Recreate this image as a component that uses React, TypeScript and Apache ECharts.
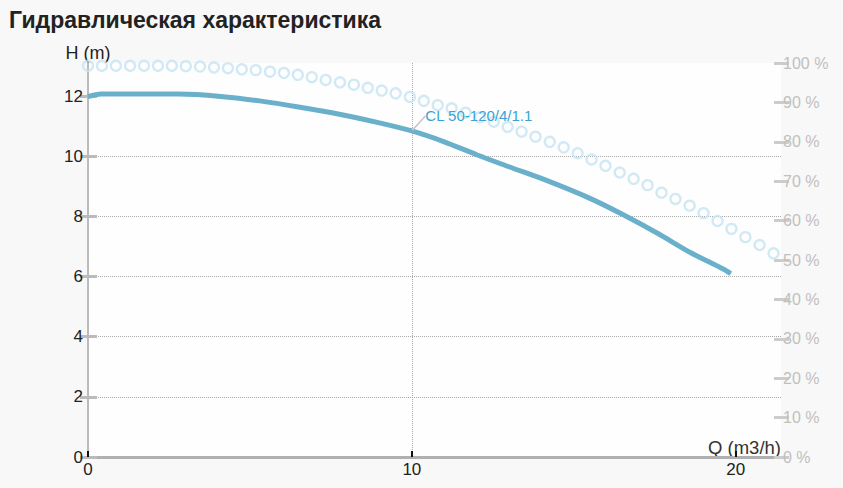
import React, { useEffect, useRef } from "react";
import * as echarts from "echarts";

const chartTitle = "Гидравлическая характеристика";
const curveName = "CL 50-120/4/1.1";
const xName = "Q (m3/h)";
const yName = "H (m)";

// Head curve H(Q)
const headQ = [0, 0.4, 2.8, 4.1, 5.3, 6.5, 7.8, 9.0, 10.0, 11.0, 12.0, 13.0, 14.1, 15.5, 16.5, 17.6, 18.6, 19.6, 19.85];
const headH = [11.98, 12.07, 12.07, 11.99, 11.84, 11.64, 11.39, 11.11, 10.84, 10.48, 10.05, 9.65, 9.22, 8.6, 8.07, 7.43, 6.8, 6.26, 6.1];
const labelQ = 10.0;

// Efficiency dots (%)
const effQ = [
  0, 0.43, 0.86, 1.3, 1.73, 2.16, 2.59, 3.02, 3.46, 3.89,
  4.32, 4.75, 5.18, 5.62, 6.05, 6.48, 6.91, 7.34, 7.78, 8.21,
  8.64, 9.07, 9.5, 9.94, 10.37, 10.8, 11.23, 11.66, 12.1, 12.53,
  12.96, 13.39, 13.82, 14.26, 14.69, 15.12, 15.55, 15.98, 16.42, 16.85,
  17.28, 17.71, 18.14, 18.58, 19.01, 19.44, 19.87, 20.3, 20.74, 21.17,
];
const effPct = [
  99.3, 99.3, 99.3, 99.3, 99.3, 99.3, 99.3, 99.2, 99.1, 98.9,
  98.7, 98.4, 98.2, 97.8, 97.5, 97.0, 96.4, 95.7, 95.1, 94.5,
  93.7, 93.0, 92.3, 91.4, 90.4, 89.3, 88.5, 87.4, 86.2, 85.1,
  83.8, 82.6, 81.3, 80.0, 78.6, 77.1, 75.5, 73.9, 72.2, 70.6,
  69.0, 67.1, 65.5, 63.8, 61.9, 59.9, 57.9, 55.8, 53.8, 51.7,
];

const xTicks = [0, 10, 20];
const leftTicks = [0, 2, 4, 6, 8, 10, 12];
const rightTicks = [0, 10, 20, 30, 40, 50, 60, 70, 80, 90, 100];

const FONT = "'Liberation Sans', Arial, Helvetica, sans-serif";

export default function App() {
  const ref = useRef<HTMLDivElement>(null);

  useEffect(() => {
    if (!ref.current) return;
    const chart = echarts.init(ref.current, null, { renderer: "svg" });

    const headData = headQ.map((q, i) =>
      q === labelQ
        ? {
            value: [q, headH[i]],
            label: {
              show: true,
              position: "right",
              distance: 2,
              formatter: curveName,
              color: "#3aa2d4",
              fontSize: 15,
              fontFamily: FONT,
            },
            labelLine: {
              show: true,
              lineStyle: { color: "#c4c4c4", width: 1.5 },
            },
          }
        : [q, headH[i]]
    );

    const option: any = {
      animation: false,
      backgroundColor: "transparent",
      textStyle: { fontFamily: FONT },
      title: {
        text: chartTitle,
        left: 4,
        top: 3,
        textStyle: { fontSize: 23, fontWeight: "bold", color: "#222", fontFamily: FONT },
      },
      grid: {
        left: 88,
        right: 62,
        top: 63,
        bottom: 31,
        show: true,
        backgroundColor: "#fefefe",
        borderWidth: 0,
        containLabel: false,
        outerBoundsMode: "none",
      },
      xAxis: {
        type: "value",
        min: 0,
        max: 21.4,
        interval: 10,
        name: xName,
        nameLocation: "end",
        nameGap: 0,
        nameMoveOverlap: false,
        nameTextStyle: { align: "right", verticalAlign: "bottom", fontSize: 18.5, color: "#333", padding: [0, 0, 0, 0] },
        axisLine: { show: true, onZero: false, lineStyle: { color: "#b0b0b0", width: 3 } },
        axisTick: { show: true, inside: true, length: 6, customValues: xTicks, lineStyle: { color: "#111", width: 2 } },
        axisLabel: { customValues: xTicks, color: "#222", fontSize: 17, margin: 4 },
        splitLine: { show: true, showMinLine: false, showMaxLine: false, lineStyle: { type: "dotted", color: "#aaa", width: 1 } },
      },
      yAxis: [
        {
          type: "value",
          position: "left",
          min: 0,
          max: 13.1,
          interval: 2,
          name: yName,
          nameLocation: "end",
          nameGap: 1,
          nameMoveOverlap: false,
          nameTextStyle: { fontSize: 18, color: "#222", align: "center", verticalAlign: "bottom" },
          axisLine: { show: true, lineStyle: { color: "#bbb", width: 2 } },
          axisTick: { show: true, inside: false, length: 8, customValues: leftTicks, lineStyle: { color: "#bbb", width: 3 } },
          axisLabel: { customValues: leftTicks, color: "#222", fontSize: 17, margin: 5, padding: [0, 0, 8, 0] },
          splitLine: { show: true, showMinLine: false, showMaxLine: false, lineStyle: { type: "dotted", color: "#aaa", width: 1 } },
        },
        {
          type: "value",
          position: "right",
          min: 0,
          max: 100,
          interval: 10,
          axisLine: { show: false },
          axisTick: { show: true, inside: false, length: 8, lineStyle: { color: "#ccc", width: 3 } },
          axisLabel: { color: "#c0c0c0", fontSize: 16, margin: 2, padding: [0, 0, 8, 0], formatter: "{value} %" },
          splitLine: { show: false },
        },
        {
          type: "value",
          position: "left",
          min: 0,
          max: 13.1,
          interval: 2,
          axisLine: { show: false },
          axisTick: { show: true, inside: true, length: 9, customValues: leftTicks, lineStyle: { color: "#bbb", width: 3 } },
          axisLabel: { show: false },
          splitLine: { show: false },
        },
        {
          type: "value",
          position: "right",
          min: 0,
          max: 100,
          interval: 10,
          axisLine: { show: false },
          axisTick: { show: true, inside: true, length: 7, customValues: rightTicks, lineStyle: { color: "#ccc", width: 3 } },
          axisLabel: { show: false },
          splitLine: { show: false },
        },
      ],
      series: [
        {
          type: "scatter",
          name: "Efficiency",
          yAxisIndex: 1,
          symbol: "circle",
          symbolSize: 10,
          itemStyle: { color: "rgba(255,255,255,0)", borderColor: "#c6e3f2", borderWidth: 2.3 },
          data: effQ.map((q, i) => [q, effPct[i]]),
          z: 2,
        },
        {
          type: "line",
          name: curveName,
          yAxisIndex: 0,
          showSymbol: true,
          symbol: "circle",
          symbolSize: 1,
          smooth: 0.3,
          itemStyle: { color: "#6ab0cb" },
          lineStyle: { color: "#6ab0cb", width: 5 },
          labelLayout: { dx: 11, dy: -15 },
          data: headData,
          z: 3,
        },
      ],
    };

    chart.setOption(option);
    return () => chart.dispose();
  }, []);

  return (
    <div style={{ position: "fixed", left: 0, top: 0, width: 843, height: 488, background: "#f8f8f8" }}>
      <div ref={ref} style={{ width: 843, height: 488 }} />
    </div>
  );
}
